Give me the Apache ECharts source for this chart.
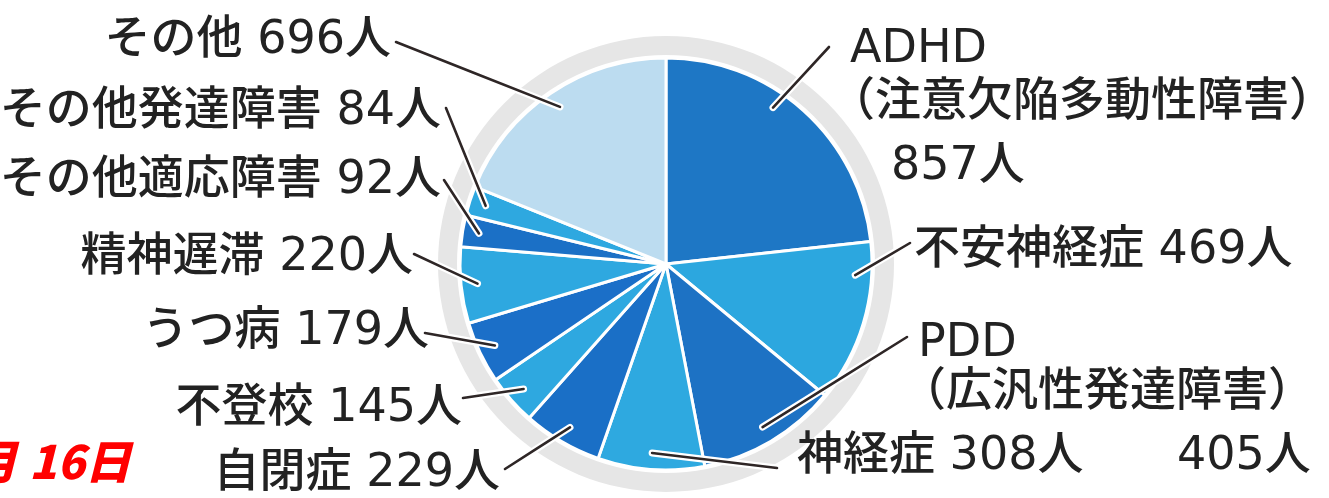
<!DOCTYPE html>
<html lang="ja">
<head>
<meta charset="utf-8">
<title>内訳</title>
<script src="https://cdn.jsdelivr.net/npm/echarts@6/dist/echarts.min.js"></script>
<style>
  html, body { margin: 0; padding: 0; background: #fff; }
  #chart { width: 1329px; height: 498px; }
</style>
</head>
<body>
<div id="chart"></div>
<script>
// Counts per diagnosis, clockwise from 12 o'clock
const categories = ['ADHD', '不安神経症', 'PDD', '神経症', '自閉症', '不登校', 'うつ病', '精神遅滞', 'その他適応障害', 'その他発達障害', 'その他'];
const counts = [857, 469, 405, 308, 229, 145, 179, 220, 92, 84, 696];
const longNames = { ADHD: '注意欠陥多動性障害', PDD: '広汎性発達障害' };
const unit = '人';
const dateText = ['月', '16日'];

// Drawing style
const sliceColors = ['#1e77c5', '#2ca7df', '#1d72c4', '#2ea9e0', '#1a6fc6', '#2ea8e0', '#1b6fc8', '#2ea8e0', '#1b70c6', '#2ea8e0', '#bcdcf0'];
const CX = 666, CY = 264, R = 206;
const FONT = "'DejaVu Sans', 'Noto Sans CJK JP', sans-serif";
const FONT_WEIGHT = 500;
const TEXT_COLOR = '#222222';

// Where each label sits and where its leader line ends
const labelSpots = [
  { x: 829, y: 22,  align: 'left',  va: 'top',    end: [829, 47],  turn: -7.5 },
  { x: 914, y: 251, align: 'left',  va: 'middle', end: [910, 243], turn: -13.3 },
  { x: 900, y: 320, align: 'left',  va: 'top',    end: [907, 337] },
  { x: 797, y: 457, align: 'left',  va: 'middle', end: [777, 468] },
  { x: 500, y: 474, align: 'right', va: 'middle', end: [505, 469] },
  { x: 462, y: 409, align: 'right', va: 'middle', end: [463, 398] },
  { x: 429, y: 332, align: 'right', va: 'middle', end: [425, 333] },
  { x: 413, y: 258, align: 'right', va: 'middle', end: [414, 254] },
  { x: 441, y: 181, align: 'right', va: 'middle', end: [444, 180] },
  { x: 441, y: 112, align: 'right', va: 'middle', end: [446, 108] },
  { x: 391, y: 41,  align: 'right', va: 'middle', end: [396, 42] }
];

const pieData = categories.map((name, i) => ({ name, value: counts[i] }));

function labelText(p) {
  const long = longNames[p.name];
  if (long) {
    if (p.name === 'ADHD') {
      return '{a|' + p.name + '}\n{b|（' + long + '）}\n{c|' + p.value + unit + '}';
    }
    return '{p|' + p.name + '}\n{b|（' + long + '）}\n{q|' + p.value + unit + '}';
  }
  return p.name + ' ' + p.value + unit;
}

function richStyles(color) {
  const base = { fontSize: 46, fontFamily: FONT, fontWeight: FONT_WEIGHT, color: color };
  return {
    a: Object.assign({ lineHeight: 56, padding: [0, 0, 0, 21] }, base),
    b: Object.assign({ lineHeight: 50 }, base),
    c: Object.assign({ lineHeight: 78, padding: [0, 0, 0, 62] }, base),
    p: Object.assign({ lineHeight: 48, padding: [0, 0, 0, 18] }, base),
    q: Object.assign({ lineHeight: 78, padding: [0, 0, 0, 277] }, base)
  };
}

// Leader line from inside the slice out to the label
function placeLabel(params) {
  const spot = labelSpots[params.dataIndex];
  let dx, dy;
  if (params.labelLinePoints) {
    dx = params.labelLinePoints[0][0] - CX;
    dy = params.labelLinePoints[0][1] - CY;
  } else {
    dx = params.rect.x + params.rect.width / 2 - CX;
    dy = params.rect.y + params.rect.height / 2 - CY;
  }
  const len = Math.sqrt(dx * dx + dy * dy) || 1;
  dx /= len; dy /= len;
  const t = (spot.turn || 0) * Math.PI / 180;
  const rx = dx * Math.cos(t) - dy * Math.sin(t);
  const ry = dx * Math.sin(t) + dy * Math.cos(t);
  const start = [CX + rx * R * 0.92, CY + ry * R * 0.92];
  const mid = [(start[0] + spot.end[0]) / 2, (start[1] + spot.end[1]) / 2];
  return {
    x: spot.x,
    y: spot.y,
    align: spot.align,
    verticalAlign: spot.va,
    labelLinePoints: [start, mid, spot.end.slice()]
  };
}

function pieLayer(extra) {
  return Object.assign({
    type: 'pie',
    center: [CX, CY],
    radius: [0, R],
    startAngle: 90,
    clockwise: true,
    avoidLabelOverlap: false,
    silent: true,
    animation: false,
    emphasis: { disabled: true },
    data: pieData
  }, extra);
}

function labelOpts(color) {
  return {
    show: true, position: 'outside', formatter: labelText, rich: richStyles(color),
    fontSize: 46, fontFamily: FONT, fontWeight: FONT_WEIGHT, color: color
  };
}

const chart = echarts.init(document.getElementById('chart'), null, { renderer: 'canvas' });

const dateStyle = {
  fontSize: 46, fontWeight: 900, fontStyle: 'italic',
  fontFamily: "'Noto Sans CJK JP', sans-serif", fill: '#ff0000',
  verticalAlign: 'middle', align: 'right'
};

chart.setOption({
  backgroundColor: '#ffffff',
  color: sliceColors,
  graphic: [
    {
      type: 'ring',
      silent: true,
      z: 0,
      shape: { cx: CX, cy: CY, r: 228, r0: 209 },
      style: { fill: '#e6e6e6' }
    },
    {
      type: 'text',
      silent: true,
      style: Object.assign({ text: dateText[0], x: 17, y: 462 }, dateStyle)
    },
    {
      type: 'text',
      silent: true,
      style: Object.assign({ text: dateText[1], x: 131, y: 462 }, dateStyle)
    }
  ],
  series: [
    // slices
    pieLayer({
      z: 2,
      itemStyle: { borderColor: '#ffffff', borderWidth: 3 },
      label: { show: false },
      labelLine: { show: false }
    }),
    // white halo under the leader lines
    pieLayer({
      z: 3,
      itemStyle: { color: 'rgba(0,0,0,0)', borderWidth: 0 },
      label: labelOpts('rgba(0,0,0,0)'),
      labelLine: { show: true, lineStyle: { color: '#ffffff', width: 7, cap: 'round' } },
      labelLayout: placeLabel
    }),
    // leader lines and labels
    pieLayer({
      z: 4,
      itemStyle: { color: 'rgba(0,0,0,0)', borderWidth: 0 },
      label: labelOpts(TEXT_COLOR),
      labelLine: { show: true, lineStyle: { color: '#2e2626', width: 2.6, cap: 'round' } },
      labelLayout: placeLabel
    })
  ]
});
</script>
</body>
</html>
